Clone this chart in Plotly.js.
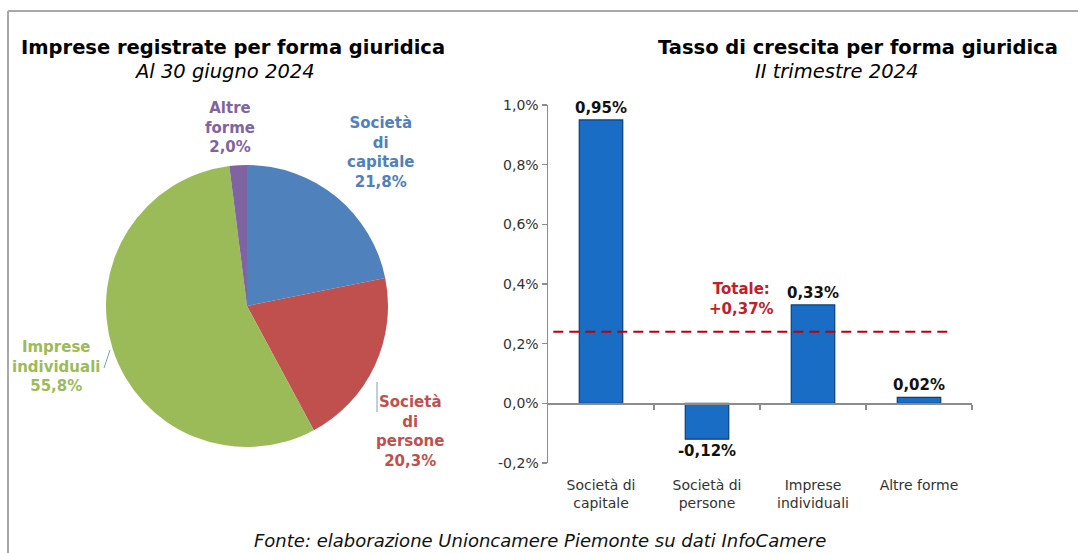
<!DOCTYPE html>
<html>
<head>
<meta charset="utf-8">
<script src="https://cdn.plot.ly/plotly-3.0.1.min.js"></script>
<style>html,body{margin:0;padding:0;background:#fff;}#chart{width:1078px;height:553px;}</style>
</head>
<body>
<div id="chart"></div>
<script>
// ---- data ----
const pieLabels = ["Società di capitale", "Società di persone", "Imprese individuali", "Altre forme"];
const pieShares = [21.8, 20.3, 55.8, 2.0];
const pieLabelText = ["Società<br>di<br>capitale", "Società<br>di<br>persone", "Imprese<br>individuali", "Altre<br>forme"];
const pieColors = ["#4F81BD", "#C0504D", "#9BBB59", "#8064A2"];

const barCategories = ["Società di<br>capitale", "Società di<br>persone", "Imprese<br>individuali", "Altre forme"];
const growthRates = [0.0095, -0.0012, 0.0033, 0.0002];
const totalRate = 0.0037;
const totalLineLevel = 0.0024; // where the dashed line sits in the picture
const yTickVals = [-0.002, 0, 0.002, 0.004, 0.006, 0.008, 0.010];

const fmtPct = (v, d, sign) => (sign && v > 0 ? "+" : "") + (v * 100).toFixed(d).replace(".", ",") + "%";

// ---- layout helpers ----
const W = 1078, H = 553;
const px = x => x / W, py = y => 1 - y / H;
const yRange = [-0.002, 0.010];
const yDom = [py(463), py(105)];
const xDom = [px(548), px(972)];
const zeroPos = yDom[0] + (0 - yRange[0]) / (yRange[1] - yRange[0]) * (yDom[1] - yDom[0]);
const catIdx = barCategories.map((_, i) => i);

const pie = {
  type: "pie",
  labels: pieLabels,
  values: pieShares,
  sort: false,
  direction: "clockwise",
  rotation: 0,
  marker: {colors: pieColors, line: {width: 0}},
  textinfo: "none",
  hoverinfo: "label+percent",
  showlegend: false,
  domain: {x: [px(106), px(388)], y: [py(447), py(165)]}
};

const bars = {
  type: "bar",
  x: catIdx,
  y: growthRates,
  width: 0.41,
  marker: {color: "#1A6DC4", line: {color: "#0B3E7A", width: 1.2}},
  text: growthRates.map(v => fmtPct(v, 2)),
  textposition: "outside",
  constraintext: "none",
  outsidetextfont: {family: "DejaVu Sans", size: 15, color: "#111"},
  texttemplate: "<b>%{text}</b>",
  cliponaxis: false,
  hoverinfo: "skip",
  showlegend: false,
  xaxis: "x",
  yaxis: "y"
};

const totalLine = {
  type: "scatter",
  mode: "lines",
  x: [-0.45, 3.27],
  y: [totalLineLevel, totalLineLevel],
  line: {color: "#C00000", width: 2, dash: "10px,6px"},
  hoverinfo: "skip",
  showlegend: false,
  xaxis: "x",
  yaxis: "y"
};

const pieAnnPos = [
  {x: 381, y: 152},
  {x: 410, y: 431},
  {x: 56, y: 366},
  {x: 230, y: 127}
];

const annotations = [];
pieLabels.forEach((l, i) => {
  annotations.push({
    xref: "paper", yref: "paper",
    x: px(pieAnnPos[i].x), y: py(pieAnnPos[i].y),
    xanchor: "center", yanchor: "middle",
    text: "<b>" + pieLabelText[i] + "<br>" + pieShares[i].toFixed(1).replace(".", ",") + "%</b>",
    showarrow: false,
    font: {family: "DejaVu Sans", size: 15, color: pieColors[i]},
    align: "center"
  });
});

annotations.push(
  {xref: "paper", yref: "paper", x: px(233), y: py(48), xanchor: "center", yanchor: "middle",
   text: "<b>Imprese registrate per forma giuridica</b>", showarrow: false,
   font: {family: "DejaVu Sans", size: 19.5, color: "#000"}},
  {xref: "paper", yref: "paper", x: px(224), y: py(71), xanchor: "center", yanchor: "middle",
   text: "<i>Al 30 giugno 2024</i>", showarrow: false,
   font: {family: "DejaVu Sans", size: 19.5, color: "#000"}},
  {xref: "paper", yref: "paper", x: px(858), y: py(48), xanchor: "center", yanchor: "middle",
   text: "<b>Tasso di crescita per forma giuridica</b>", showarrow: false,
   font: {family: "DejaVu Sans", size: 19.5, color: "#000"}},
  {xref: "paper", yref: "paper", x: px(836), y: py(71), xanchor: "center", yanchor: "middle",
   text: "<i>II trimestre 2024</i>", showarrow: false,
   font: {family: "DejaVu Sans", size: 19.5, color: "#000"}},
  {xref: "x", yref: "y", x: 1.33, y: 0.00349, xanchor: "center", yanchor: "middle",
   text: "<b>Totale:<br>" + fmtPct(totalRate, 2, true) + "</b>", showarrow: false,
   font: {family: "DejaVu Sans", size: 15, color: "#C0202A"}},
  {xref: "paper", yref: "paper", x: px(540), y: py(540), xanchor: "center", yanchor: "middle",
   text: "<i>Fonte: elaborazione Unioncamere Piemonte su dati InfoCamere</i>", showarrow: false,
   font: {family: "DejaVu Sans", size: 18, color: "#111"}}
);

const shapes = [
  {type: "line", xref: "paper", yref: "paper", x0: px(8), x1: 1, y0: py(11), y1: py(11), line: {color: "#A8A8A8", width: 2}},
  {type: "line", xref: "paper", yref: "paper", x0: px(8), x1: px(8), y0: py(11), y1: 0, line: {color: "#A8A8A8", width: 2}},
  {type: "line", xref: "paper", yref: "paper", x0: px(104), x1: px(110), y0: py(368), y1: py(350), line: {color: "#7F9FBF", width: 1}},
  {type: "line", xref: "paper", yref: "paper", x0: px(377), x1: px(377), y0: py(382), y1: py(412), line: {color: "#7F9FBF", width: 1}}
];

const layout = {
  width: W, height: H,
  margin: {l: 0, r: 0, t: 0, b: 0},
  paper_bgcolor: "#fff",
  plot_bgcolor: "rgba(0,0,0,0)",
  font: {family: "DejaVu Sans", color: "#333"},
  showlegend: false,
  xaxis: {
    domain: xDom, range: [-0.5, 3.5],
    tickmode: "array", tickvals: catIdx, ticktext: barCategories,
    showline: false, showgrid: false, zeroline: false, ticks: "",
    ticklabelstandoff: 12,
    tickfont: {family: "DejaVu Sans", size: 14, color: "#333"},
    fixedrange: true
  },
  xaxis2: {
    overlaying: "x", anchor: "free", position: zeroPos,
    domain: xDom, range: [-0.5, 3.5],
    tickmode: "array", tickvals: catIdx.map(i => i + 0.5),
    showticklabels: false, showline: true, linecolor: "#8C8C8C", linewidth: 1.5,
    ticks: "outside", ticklen: 5, tickcolor: "#8C8C8C", tickwidth: 1.5,
    showgrid: false, zeroline: false
  },
  yaxis: {
    domain: yDom, range: yRange,
    tickmode: "array", tickvals: yTickVals, ticktext: yTickVals.map(v => fmtPct(v, 1)),
    showline: true, linecolor: "#8C8C8C", linewidth: 1.5,
    ticks: "outside", ticklen: 5, tickcolor: "#8C8C8C", tickwidth: 1.5,
    showgrid: false, zeroline: false,
    tickfont: {family: "DejaVu Sans", size: 14, color: "#333"},
    fixedrange: true
  },
  annotations: annotations,
  shapes: shapes
};

// dummy trace to activate xaxis2
const axisHolder = {type: "scatter", x: [], y: [], xaxis: "x2", yaxis: "y", showlegend: false, hoverinfo: "skip"};

Plotly.newPlot("chart", [pie, bars, totalLine, axisHolder], layout, {displayModeBar: false, staticPlot: true});
</script>
</body>
</html>
